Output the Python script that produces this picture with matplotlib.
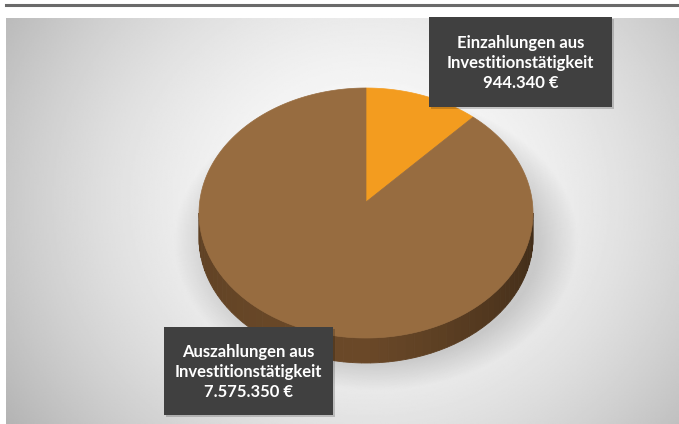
import numpy as np
import matplotlib.pyplot as plt
from matplotlib.colors import to_rgb
from matplotlib.patches import Polygon, Rectangle

# Cashflow aus Investitionstätigkeit
labels = ["Einzahlungen aus\nInvestitionstätigkeit", "Auszahlungen aus\nInvestitionstätigkeit"]
values = [944340, 7575350]
top_colors = ["#f39c1f", "#976c40"]
side_colors = ["#b8730f", "#654526"]


def fmt_eur(v):
    return f"{v:,}".replace(",", ".") + " €"


def ellipse_pts(cx, cy, rx, ry, t0, t1, n=200):
    t = np.radians(np.linspace(t0, t1, n))
    return cx + rx * np.cos(t), cy - ry * np.sin(t)


def draw():
    W, H = 679, 424
    fig = plt.figure(figsize=(W / 100, H / 100), dpi=100)
    ax = fig.add_axes([0, 0, 1, 1])
    ax.set_xlim(0, W)
    ax.set_ylim(H, 0)
    ax.axis("off")

    # Hintergrund mit radialem Verlauf
    gx, gy = np.meshgrid(np.linspace(6, W, 400), np.linspace(18, H, 300))
    r = np.sqrt(((gx - 370) / 400) ** 2 + ((gy - 200) / 360) ** 2)
    shade = 0.99 - 0.24 * np.clip(r, 0, 1.3) ** 1.8
    ax.imshow(shade, cmap="gray", vmin=0, vmax=1, extent=(6, W, H, 18),
              aspect="auto", zorder=0, interpolation="bilinear")
    ax.plot([6, W], [5, 5], color="#6a6a6a", lw=2.2, zorder=1)

    cx, cy, rx, ry, depth = 366, 213, 167, 125, 25
    vy = 202  # Spitze der Tortenstücke

    # weicher Schatten unter der Torte
    ex = (100, 660, 424, 100)
    sx, sy = np.meshgrid(np.linspace(ex[0], ex[1], 300), np.linspace(ex[3], ex[2], 200))
    d = np.sqrt(((sx - cx - 10) / (rx + 14)) ** 2 + ((sy - cy - depth - 4) / (ry + 8)) ** 2)
    alpha = np.clip((1.12 - d) / 0.22, 0, 1) * 0.3
    rgba = np.zeros(sx.shape + (4,))
    rgba[..., :3] = 0.45
    rgba[..., 3] = alpha
    ax.imshow(rgba, extent=ex, aspect="auto", zorder=1, interpolation="bilinear")

    total = sum(values)
    angles = [v / total * 360 for v in values]
    start = 90.0
    spans = []
    for a in angles:
        spans.append((start - a, start))
        start -= a

    # Seitenwand (nur vordere Hälfte sichtbar)
    for (t0, t1), col in zip(spans, side_colors):
        for k in range(-1, 2):
            lo = max(t0 + 360 * k, 180)
            hi = min(t1 + 360 * k, 360)
            if hi <= lo:
                continue
            steps = np.linspace(lo, hi, 60)
            for a0, a1 in zip(steps[:-1], steps[1:]):
                x, y = ellipse_pts(cx, cy, rx, ry, a0, a1, 4)
                mid = np.radians((a0 + a1) / 2)
                f = 1.05 - 0.12 * (1 + np.sin(mid)) - 0.28 * max(np.cos(mid), 0)
                c = np.clip(np.array(to_rgb(col)) * f, 0, 1)
                pts = np.column_stack([np.r_[x, x[::-1]], np.r_[y, y[::-1] + depth]])
                ax.add_patch(Polygon(pts, closed=True, fc=c, ec=c, lw=0.6, zorder=2))

    # Oberseite
    for (t0, t1), col in zip(spans, top_colors):
        x, y = ellipse_pts(cx, cy, rx, ry, t0, t1, 300)
        pts = np.column_stack([np.r_[cx, x], np.r_[vy, y]])
        ax.add_patch(Polygon(pts, closed=True, fc=col, ec=col, lw=0.5, zorder=3))

    # Beschriftungen
    boxes = [(429, 17, 183, 90), (164, 327, 169, 88)]
    for lab, val, (bx, by, bw, bh) in zip(labels, values, boxes):
        ax.add_patch(Rectangle((bx + 2, by + 2), bw, bh, fc="#000000", alpha=0.18, zorder=4))
        ax.add_patch(Rectangle((bx, by), bw, bh, fc="#404040", ec="none", zorder=5))
        ax.text(bx + bw / 2, by + bh / 2 + 1, lab + "\n" + fmt_eur(val), color="white",
                ha="center", va="center", fontsize=12, fontweight="bold",
                family=["Lato", "DejaVu Sans"], linespacing=1.3, zorder=6)

    fig.savefig("out.png", dpi=100)


if __name__ == "__main__":
    draw()
